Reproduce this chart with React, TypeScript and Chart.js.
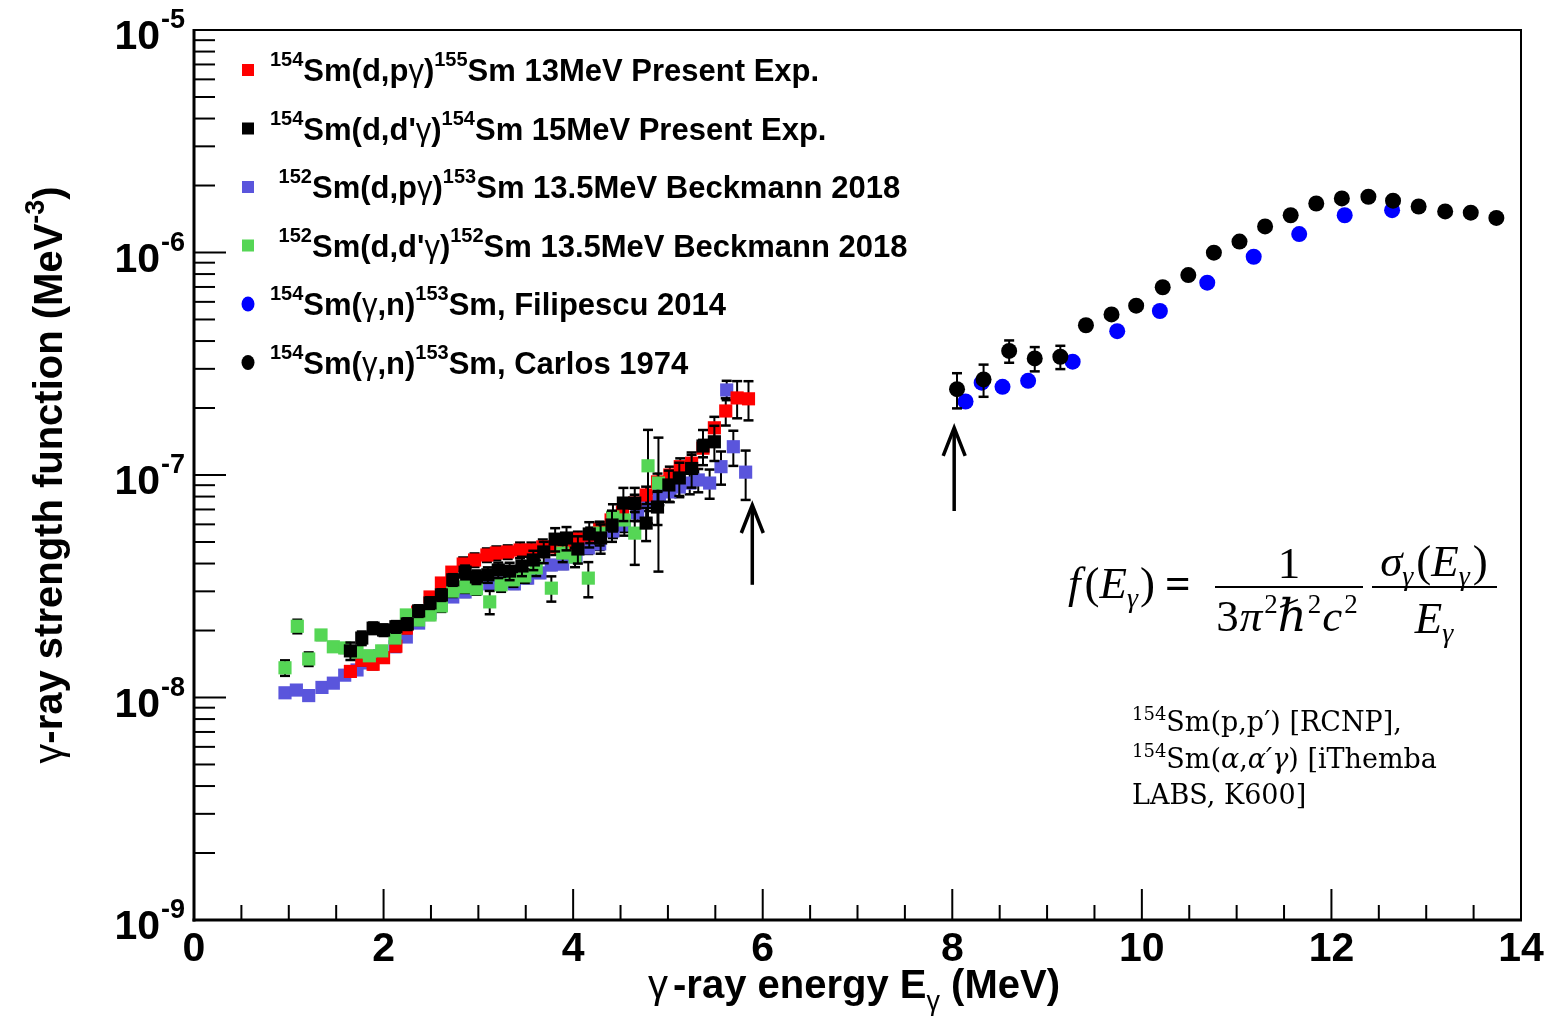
import React, { useEffect, useRef } from "react";
import { Chart, registerables } from "chart.js";

Chart.register(...registerables);

// ---------------- data ----------------
// 154Sm(d,p gamma)155Sm 13 MeV (red squares)
const redE = [1.65, 1.77, 1.89, 2.0, 2.13, 2.24, 2.36, 2.49, 2.61, 2.72, 2.84, 2.96, 3.09, 3.19, 3.31, 3.44, 3.56, 3.68, 3.81, 3.93, 4.05, 4.18, 4.28, 4.4, 4.52, 4.65, 4.77, 4.89, 5.02, 5.13, 5.25, 5.37, 5.49, 5.61, 5.73, 5.85];
const redV = [1.31e-8, 1.47e-8, 1.41e-8, 1.51e-8, 1.7e-8, 2.05e-8, 2.42e-8, 2.83e-8, 3.27e-8, 3.66e-8, 3.98e-8, 4.15e-8, 4.37e-8, 4.46e-8, 4.51e-8, 4.6e-8, 4.6e-8, 4.75e-8, 4.75e-8, 4.85e-8, 5.15e-8, 5.37e-8, 5.71e-8, 6.28e-8, 6.82e-8, 7.48e-8, 8.13e-8, 9.31e-8, 1.0e-7, 1.09e-7, 1.13e-7, 1.32e-7, 1.63e-7, 1.94e-7, 2.22e-7, 2.2e-7];
const redErr = [0.05, 0.05, 0.05, 0.05, 0.05, 0.05, 0.05, 0.05, 0.05, 0.05, 0.07, 0.07, 0.07, 0.07, 0.07, 0.08, 0.08, 0.08, 0.08, 0.08, 0.08, 0.08, 0.08, 0.08, 0.08, 0.09, 0.09, 0.09, 0.09, 0.09, 0.09, 0.09, 0.12, 0.14, 0.19, 0.2];

// 154Sm(d,d' gamma)154Sm 15 MeV (black squares)
const blkE = [1.65, 1.77, 1.89, 2.0, 2.13, 2.25, 2.37, 2.49, 2.61, 2.73, 2.86, 2.98, 3.1, 3.21, 3.33, 3.46, 3.58, 3.69, 3.81, 3.93, 4.05, 4.17, 4.29, 4.41, 4.53, 4.65, 4.77, 4.89, 5.01, 5.12, 5.25, 5.37, 5.49];
const blkV = [1.62e-8, 1.85e-8, 2.05e-8, 2.01e-8, 2.08e-8, 2.14e-8, 2.45e-8, 2.66e-8, 2.89e-8, 3.38e-8, 3.66e-8, 3.48e-8, 3.56e-8, 3.74e-8, 3.7e-8, 3.9e-8, 4.15e-8, 4.51e-8, 5.15e-8, 5.21e-8, 4.65e-8, 5.43e-8, 5.21e-8, 5.96e-8, 7.48e-8, 7.48e-8, 6.08e-8, 7.18e-8, 9.02e-8, 9.7e-8, 1.07e-7, 1.35e-7, 1.41e-7];
const blkErr = [0.09, 0.07, 0.06, 0.06, 0.06, 0.06, 0.06, 0.06, 0.06, 0.06, 0.07, 0.07, 0.08, 0.08, 0.09, 0.1, 0.1, 0.11, 0.12, 0.12, 0.14, 0.13, 0.15, 0.16, 0.17, 0.17, 0.17, 0.17, 0.16, 0.17, 0.18, 0.18, 0.18];

// 152Sm(d,p gamma)153Sm 13.5 MeV Beckmann 2018 (blue-violet squares)
const bluE = [0.96, 1.08, 1.21, 1.35, 1.47, 1.59, 1.72, 1.83, 1.96, 2.12, 2.24, 2.37, 2.49, 2.61, 2.73, 2.86, 2.98, 3.12, 3.24, 3.38, 3.52, 3.65, 3.77, 3.89, 4.03, 4.16, 4.28, 4.42, 4.54, 4.68, 4.79, 4.91, 5.02, 5.12, 5.23, 5.32, 5.44, 5.56, 5.62, 5.69, 5.82];
const bluV = [1.05e-8, 1.08e-8, 1.02e-8, 1.11e-8, 1.16e-8, 1.26e-8, 1.33e-8, 1.43e-8, 1.54e-8, 1.69e-8, 1.87e-8, 2.16e-8, 2.4e-8, 2.61e-8, 2.83e-8, 2.98e-8, 3.1e-8, 3.24e-8, 3.27e-8, 3.24e-8, 3.44e-8, 3.63e-8, 3.94e-8, 3.98e-8, 4.28e-8, 4.7e-8, 4.9e-8, 5.6e-8, 5.96e-8, 6.75e-8, 7.57e-8, 8.13e-8, 8.39e-8, 8.83e-8, 9.2e-8, 9.5e-8, 9.2e-8, 1.09e-7, 2.41e-7, 1.34e-7, 1.03e-7];
const bluErr = [0.04, 0.04, 0.04, 0.04, 0.04, 0.04, 0.04, 0.04, 0.04, 0.04, 0.04, 0.04, 0.04, 0.04, 0.04, 0.05, 0.05, 0.05, 0.05, 0.05, 0.05, 0.05, 0.05, 0.05, 0.05, 0.06, 0.06, 0.07, 0.07, 0.08, 0.09, 0.1, 0.1, 0.1, 0.11, 0.12, 0.15, 0.17, 0.1, 0.18, 0.25];

// 152Sm(d,d' gamma)152Sm 13.5 MeV Beckmann 2018 (green squares)
const grnE = [0.96, 1.09, 1.21, 1.34, 1.47, 1.59, 1.72, 1.85, 1.98, 2.12, 2.24, 2.37, 2.49, 2.61, 2.73, 2.86, 2.98, 3.12, 3.24, 3.37, 3.49, 3.61, 3.77, 3.89, 4.02, 4.16, 4.28, 4.42, 4.54, 4.65, 4.79, 4.9];
const grnV = [1.36e-8, 2.09e-8, 1.49e-8, 1.91e-8, 1.69e-8, 1.67e-8, 1.6e-8, 1.54e-8, 1.62e-8, 1.85e-8, 2.35e-8, 2.23e-8, 2.35e-8, 2.58e-8, 3.01e-8, 3.14e-8, 3.08e-8, 2.69e-8, 3.21e-8, 3.38e-8, 3.52e-8, 3.82e-8, 3.1e-8, 4.46e-8, 4.28e-8, 3.44e-8, 5.48e-8, 6.48e-8, 6.28e-8, 5.48e-8, 1.1e-7, 9.2e-8];
const grnErr = [0.08, 0.07, 0.07, 0.05, 0.05, 0.05, 0.05, 0.05, 0.05, 0.05, 0.05, 0.05, 0.05, 0.06, 0.06, 0.06, 0.06, 0.12, 0.07, 0.07, 0.07, 0.08, 0.13, 0.09, 0.1, 0.18, 0.12, 0.14, 0.15, 0.28, 0.45, 0.6];

// 154Sm(gamma,n)153Sm Filipescu 2014 (blue circles)
const filE = [8.14, 8.31, 8.53, 8.8, 9.27, 9.74, 10.19, 10.69, 11.18, 11.66, 12.14, 12.64];
const filV = [2.14e-7, 2.6e-7, 2.49e-7, 2.65e-7, 3.23e-7, 4.43e-7, 5.46e-7, 7.32e-7, 9.57e-7, 1.21e-6, 1.47e-6, 1.55e-6];

// 154Sm(gamma,n)153Sm Carlos 1974 (black circles)
const carE = [8.05, 8.33, 8.6, 8.87, 9.14, 9.41, 9.68, 9.94, 10.22, 10.49, 10.76, 11.03, 11.3, 11.57, 11.84, 12.11, 12.39, 12.65, 12.92, 13.2, 13.47, 13.74];
const carV = [2.43e-7, 2.69e-7, 3.61e-7, 3.34e-7, 3.4e-7, 4.71e-7, 5.27e-7, 5.77e-7, 6.98e-7, 7.92e-7, 9.98e-7, 1.12e-6, 1.31e-6, 1.47e-6, 1.66e-6, 1.75e-6, 1.78e-6, 1.71e-6, 1.61e-6, 1.53e-6, 1.51e-6, 1.43e-6];
const carErr = [0.18, 0.165, 0.115, 0.125, 0.12, 0.03, 0, 0, 0, 0, 0, 0, 0, 0, 0, 0, 0, 0, 0, 0, 0, 0];

// legend labels (^{..} superscript, #g gamma)
const legendLabels = [
  "^{154}Sm(d,p#g)^{155}Sm 13MeV Present Exp.",
  "^{154}Sm(d,d'#g)^{154}Sm 15MeV Present Exp.",
  " ^{152}Sm(d,p#g)^{153}Sm 13.5MeV Beckmann 2018",
  " ^{152}Sm(d,d'#g)^{152}Sm 13.5MeV Beckmann 2018",
  "^{154}Sm(#g,n)^{153}Sm, Filipescu 2014",
  "^{154}Sm(#g,n)^{153}Sm, Carlos 1974",
];

const xTickValues = [0, 2, 4, 6, 8, 10, 12, 14];
const xTickLabels = ["0", "2", "4", "6", "8", "10", "12", "14"];
const yDecadeExponents = [-9, -8, -7, -6, -5];
const xTitle = "#g-ray energy E_{#g} (MeV)";
const yTitle = "#g-ray strength function (MeV^{-3})";

// arrows (energy, tip value, tail value)
const arrowE = [5.89, 8.02];
const arrowTip = [7.33e-8, 1.63e-7];
const arrowTail = [3.21e-8, 6.89e-8];

// ---------------- helpers ----------------
const SANS = '"Liberation Sans", Arial, Helvetica, sans-serif';
const SERIF = '"Liberation Serif", "DejaVu Serif", "Times New Roman", serif';
const NOTE_SERIF = '"DejaVu Serif", "Liberation Serif", serif';

type Seg = { t: string; font: string; dy?: number; dx?: number };

function parseMarkup(s: string, size: number, supSize: number, supDy: number, subDy: number): Seg[] {
  const main = `bold ${size}px ${SANS}`;
  const small = `bold ${supSize}px ${SANS}`;
  const g = `${size}px ${SANS}`;
  const gs = `${supSize}px ${SANS}`;
  const segs: Seg[] = [];
  let buf = "";
  const flush = () => {
    if (buf) segs.push({ t: buf, font: main });
    buf = "";
  };
  let i = 0;
  while (i < s.length) {
    if ((s[i] === "^" || s[i] === "_") && s[i + 1] === "{") {
      flush();
      const end = s.indexOf("}", i);
      const inner = s.slice(i + 2, end);
      const dy = s[i] === "^" ? supDy : subDy;
      inner.split(/(#g)/).forEach((p) => {
        if (!p) return;
        segs.push({ t: p === "#g" ? "γ" : p, font: p === "#g" ? gs : small, dy });
      });
      i = end + 1;
    } else if (s.startsWith("#g", i)) {
      flush();
      segs.push({ t: "γ", font: g });
      i += 2;
    } else {
      buf += s[i];
      i++;
    }
  }
  flush();
  return segs;
}

function richWidth(ctx: CanvasRenderingContext2D, segs: Seg[]) {
  let w = 0;
  for (const s of segs) {
    ctx.font = s.font;
    w += ctx.measureText(s.t).width + (s.dx || 0);
  }
  return w;
}

function drawRich(ctx: CanvasRenderingContext2D, segs: Seg[], x: number, y: number, align = "left") {
  const w = richWidth(ctx, segs);
  let cx = align === "center" ? x - w / 2 : align === "right" ? x - w : x;
  ctx.textAlign = "left";
  ctx.textBaseline = "alphabetic";
  for (const s of segs) {
    cx += s.dx || 0;
    ctx.font = s.font;
    ctx.fillText(s.t, cx, y + (s.dy || 0));
    cx += ctx.measureText(s.t).width;
  }
  return w;
}

function seg(ctx: CanvasRenderingContext2D, x1: number, y1: number, x2: number, y2: number) {
  ctx.beginPath();
  ctx.moveTo(x1, y1);
  ctx.lineTo(x2, y2);
  ctx.stroke();
}

// ---------------- plugins ----------------
const errorBars = {
  id: "errorBars",
  beforeDatasetDraw(chart: any, args: any) {
    const ds = chart.data.datasets[args.index];
    const errs: number[] | undefined = ds.errs;
    if (!errs) return;
    const ctx: CanvasRenderingContext2D = chart.ctx;
    const xs = chart.scales.x;
    const ys = chart.scales.y;
    ctx.save();
    ctx.strokeStyle = "#000";
    ctx.lineWidth = 2;
    ds.data.forEach((p: any, i: number) => {
      const e = errs[i];
      if (!e) return;
      const px = xs.getPixelForValue(p.x);
      const top = ys.getPixelForValue(p.y * (1 + e));
      const bot = ys.getPixelForValue(p.y * (1 - e));
      seg(ctx, px, top, px, bot);
      ctx.lineWidth = 2.5;
      seg(ctx, px - 5, top, px + 5, top);
      seg(ctx, px - 5, bot, px + 5, bot);
      ctx.lineWidth = 2;
    });
    ctx.restore();
  },
};

const decor = {
  id: "decor",
  afterDraw(chart: any) {
    const ctx: CanvasRenderingContext2D = chart.ctx;
    const xs = chart.scales.x;
    const ys = chart.scales.y;
    const a = chart.chartArea;
    ctx.save();
    ctx.strokeStyle = "#000";
    ctx.fillStyle = "#000";
    ctx.lineCap = "butt";

    // frame
    ctx.lineWidth = 2;
    ctx.strokeRect(a.left, a.top, a.right - a.left, a.bottom - a.top);
    ctx.lineWidth = 3;
    seg(ctx, a.left, a.top - 1, a.left, a.bottom + 1.5);
    seg(ctx, a.left - 1.5, a.bottom, a.right + 1, a.bottom);

    // y ticks (log)
    ctx.lineWidth = 2;
    yDecadeExponents.forEach((ex) => {
      for (let m = 1; m <= 9; m++) {
        const v = Number(`${m}e${ex}`);
        if (v > ys.max * 1.0001) break;
        if (m === 1 && (ex === -9 || ex === -5)) continue;
        const py = ys.getPixelForValue(v);
        seg(ctx, a.left, py, a.left + (m === 1 ? 32 : 21), py);
      }
    });
    // y tick labels
    ctx.fillStyle = "#000";
    yDecadeExponents.forEach((ex) => {
      const py = ys.getPixelForValue(Number(`1e${ex}`));
      ctx.font = `bold 41px ${SANS}`;
      ctx.textAlign = "right";
      ctx.textBaseline = "alphabetic";
      ctx.fillText("10", a.left - 34, py + 19);
      ctx.font = `bold 27px ${SANS}`;
      ctx.textAlign = "left";
      ctx.fillText(`-${-ex}`, a.left - 33, py - 2);
    });

    // x ticks
    for (let k = 1; k < 28; k++) {
      const v = k * 0.5;
      const px = xs.getPixelForValue(v);
      const major = k % 4 === 0;
      seg(ctx, px, a.bottom, px, a.bottom - (major ? 31 : 15));
    }
    ctx.font = `bold 41px ${SANS}`;
    ctx.textAlign = "center";
    xTickValues.forEach((v, i) => {
      ctx.fillText(xTickLabels[i], xs.getPixelForValue(v), a.bottom + 41);
    });

    // axis titles
    const xt = parseMarkup(xTitle, 40, 27, -17, 12);
    xt.splice(1, 0, { t: "", font: xt[0].font, dx: 5 });
    drawRich(ctx, xt, 854, 998, "center");

    ctx.save();
    ctx.translate(62, 475);
    ctx.rotate(-Math.PI / 2);
    drawRich(ctx, parseMarkup(yTitle, 40, 27, -18, 12), 0, 0, "center");
    ctx.restore();

    // legend
    const dsets = chart.data.datasets;
    const legendOrder = [0, 1, 2, 3, 4, 5];
    legendOrder.forEach((di, row) => {
      const d = dsets[di];
      const my = 70 + row * 58.5;
      const mx = 248;
      ctx.fillStyle = d.pointBackgroundColor;
      if (d.pointStyle === "rect") {
        ctx.fillRect(mx - 6, my - 6, 12, 12);
      } else {
        ctx.beginPath();
        ctx.ellipse(mx, my, 6.5, 7.5, 0, 0, Math.PI * 2);
        ctx.fill();
      }
      ctx.fillStyle = "#000";
      drawRich(ctx, parseMarkup(legendLabels[row], 31, 20, -15, 10), 270, my + 11);
    });

    // arrows
    ctx.lineWidth = 3.5;
    ctx.lineJoin = "miter";
    arrowE.forEach((e, i) => {
      const px = xs.getPixelForValue(e);
      const tip = ys.getPixelForValue(arrowTip[i]);
      const tail = ys.getPixelForValue(arrowTail[i]);
      seg(ctx, px, tail, px, tip + 2);
      ctx.beginPath();
      ctx.moveTo(px - 11, tip + 28);
      ctx.lineTo(px, tip);
      ctx.lineTo(px + 11, tip + 28);
      ctx.stroke();
    });

    // formula
    const FS = 45;
    const fI = `italic ${FS}px ${SERIF}`;
    const fR = `${FS}px ${SERIF}`;
    const fSub = `italic 28px ${SERIF}`;
    const fSup = `27px ${SERIF}`;
    drawRich(
      ctx,
      [
        { t: "f", font: fI },
        { t: "(", font: fR, dx: 4 },
        { t: "E", font: fI },
        { t: "γ", font: fSub, dy: 9 },
        { t: ")", font: fR, dx: 2 },
        { t: "=", font: `bold ${FS}px ${SERIF}`, dx: 10 },
      ],
      1068,
      598
    );
    ctx.lineWidth = 2;
    seg(ctx, 1215, 587, 1363, 587);
    seg(ctx, 1372, 587, 1497, 587);
    drawRich(ctx, [{ t: "1", font: fR }], 1289, 578, "center");
    drawRich(
      ctx,
      [
        { t: "3", font: fR },
        { t: "π", font: fI, dx: 1 },
        { t: "2", font: fSup, dy: -18, dx: 2 },
        { t: "ℏ", font: fI },
        { t: "2", font: fSup, dy: -18, dx: 1 },
        { t: "c", font: fI, dx: 1 },
        { t: "2", font: fSup, dy: -18, dx: 2 },
      ],
      1287,
      631,
      "center"
    );
    drawRich(
      ctx,
      [
        { t: "σ", font: fI },
        { t: "γ", font: fSub, dy: 9 },
        { t: "(", font: fR, dx: 3 },
        { t: "E", font: fI },
        { t: "γ", font: fSub, dy: 9 },
        { t: ")", font: fR, dx: 3 },
      ],
      1434,
      576,
      "center"
    );
    drawRich(ctx, [{ t: "E", font: fI }, { t: "γ", font: fSub, dy: 9 }], 1434, 633, "center");

    // note
    const nR = `27px ${NOTE_SERIF}`;
    const nI = `italic 27px ${NOTE_SERIF}`;
    const nS = `18px ${NOTE_SERIF}`;
    drawRich(ctx, [{ t: "154", font: nS, dy: -11 }, { t: "Sm(p,p′) [RCNP],", font: nR }], 1132, 731);
    drawRich(
      ctx,
      [
        { t: "154", font: nS, dy: -11 },
        { t: "Sm(", font: nR },
        { t: "α", font: nI },
        { t: ",", font: nR },
        { t: "α′γ", font: nI },
        { t: ") [iThemba", font: nR },
      ],
      1132,
      768
    );
    drawRich(ctx, [{ t: "LABS, K600]", font: nR }], 1132, 804);

    ctx.restore();
  },
};

function mk(label: string, E: number[], V: number[], errs: number[] | null, color: string, style: string, radius: number, order: number) {
  return {
    label,
    data: E.map((x, i) => ({ x, y: V[i] })),
    errs,
    pointStyle: style,
    pointRadius: radius,
    pointBackgroundColor: color,
    pointBorderColor: color,
    pointBorderWidth: 0,
    showLine: false,
    order,
  };
}

export default function App() {
  const ref = useRef<HTMLCanvasElement>(null);
  useEffect(() => {
    if (!ref.current) return;
    const chart = new Chart(ref.current, {
      type: "scatter",
      data: {
        datasets: [
          mk("red", redE, redV, redErr, "#ff0000", "rect", 9.3, 4),
          mk("black", blkE, blkV, blkErr, "#000000", "rect", 9.3, 2),
          mk("beck dp", bluE, bluV, bluErr, "#5a55dc", "rect", 9.3, 5),
          mk("beck dd", grnE, grnV, grnErr, "#55d655", "rect", 9.3, 3),
          mk("filipescu", filE, filV, null, "#0000ff", "circle", 8, 1),
          mk("carlos", carE, carV, carErr, "#000000", "circle", 8, 0),
        ] as any,
      },
      options: {
        animation: false,
        responsive: true,
        maintainAspectRatio: false,
        events: [],
        layout: { padding: { left: 194, top: 30, right: 26, bottom: 98 } },
        plugins: { legend: { display: false }, tooltip: { enabled: false }, title: { display: false } },
        scales: {
          x: { type: "linear", min: 0, max: 14, display: false },
          y: { type: "logarithmic", min: 1e-9, max: 1e-5, display: false },
        },
      } as any,
      plugins: [errorBars, decor],
    });
    return () => chart.destroy();
  }, []);
  return (
    <div style={{ position: "fixed", left: 0, top: 0, width: 1547, height: 1018, background: "#fff" }}>
      <canvas ref={ref} />
    </div>
  );
}
